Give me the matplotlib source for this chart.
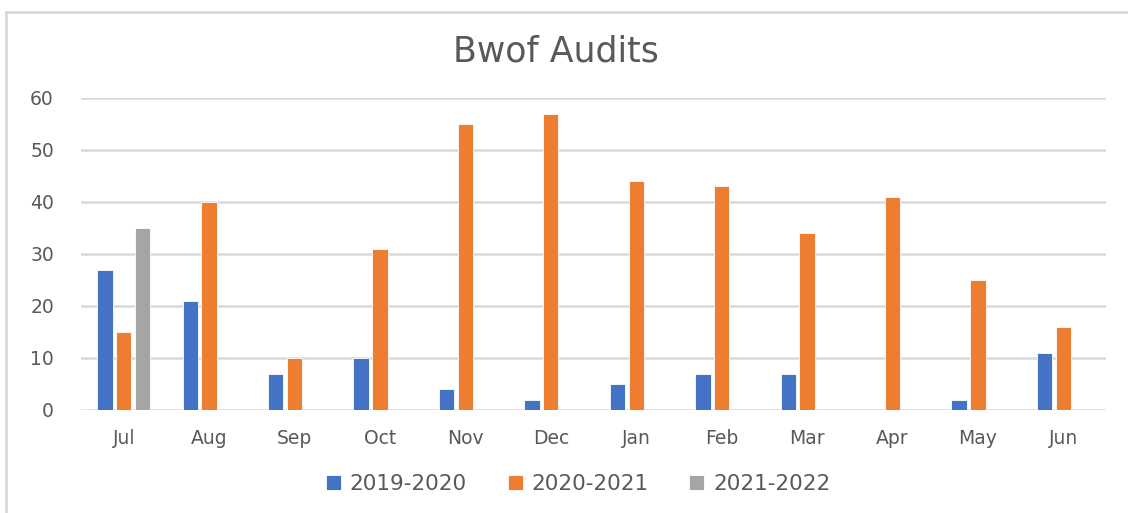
import matplotlib
matplotlib.use("Agg")
import matplotlib.pyplot as plt
from matplotlib.lines import Line2D
import numpy as np

months = ["Jul", "Aug", "Sep", "Oct", "Nov", "Dec", "Jan", "Feb", "Mar", "Apr", "May", "Jun"]
s2019 = [27, 21, 7, 10, 4, 2, 5, 7, 7, 0, 2, 11]
s2020 = [15, 40, 10, 31, 55, 57, 44, 43, 34, 41, 25, 16]
s2021 = [35, 0, 0, 0, 0, 0, 0, 0, 0, 0, 0, 0]
series_names = ["2019-2020", "2020-2021", "2021-2022"]
colors = ["#4472C4", "#ED7D31", "#A5A5A5"]

plt.rcParams['font.family'] = ['DejaVu Sans']
txt = "#595959"
grid = "#d9d9d9"

fig = plt.figure(figsize=(11.28, 5.13), dpi=100)
ax = fig.add_axes([0.0718, 0.2008, 0.9087, 0.6082])

x = np.arange(len(months))
w = 0.18
step = 0.22
for i, (vals, name, c) in enumerate(zip([s2019, s2020, s2021], series_names, colors)):
    ax.bar(x + (i - 1) * step, vals, width=w, color=c, label=name,
           edgecolor="white", linewidth=0.6, zorder=3)

ax.set_xlim(-0.5, len(months) - 0.5)
ax.set_ylim(0, 60)
ax.set_yticks(range(0, 61, 10))
ax.set_xticks(x)
ax.set_xticklabels(months)
ax.yaxis.grid(True, color=grid, linewidth=1.8, zorder=0)
ax.set_axisbelow(True)
for s in ax.spines.values():
    s.set_visible(False)
ax.tick_params(axis='both', length=0, colors=txt, labelsize=13.5)
ax.tick_params(axis='x', pad=14)
ax.tick_params(axis='y', pad=19.5)

fig.text(0.493, 0.9, "Bwof Audits", ha='center', va='center', fontsize=25, color=txt)

leg = ax.legend(loc='center', bbox_to_anchor=(0.485, -0.237), ncol=3, frameon=False,
                fontsize=15.5, handlelength=0.7, handleheight=0.7, columnspacing=1.9,
                handletextpad=0.4)
for t in leg.get_texts():
    t.set_color(txt)

# chart frame (left and top edges visible)
fig.add_artist(Line2D([6 / 1128, 6 / 1128], [0, 1 - 12 / 513], transform=fig.transFigure,
                      color=grid, linewidth=2))
fig.add_artist(Line2D([6 / 1128, 1], [1 - 12 / 513, 1 - 12 / 513], transform=fig.transFigure,
                      color=grid, linewidth=2))

plt.savefig("out.png", dpi=100)
